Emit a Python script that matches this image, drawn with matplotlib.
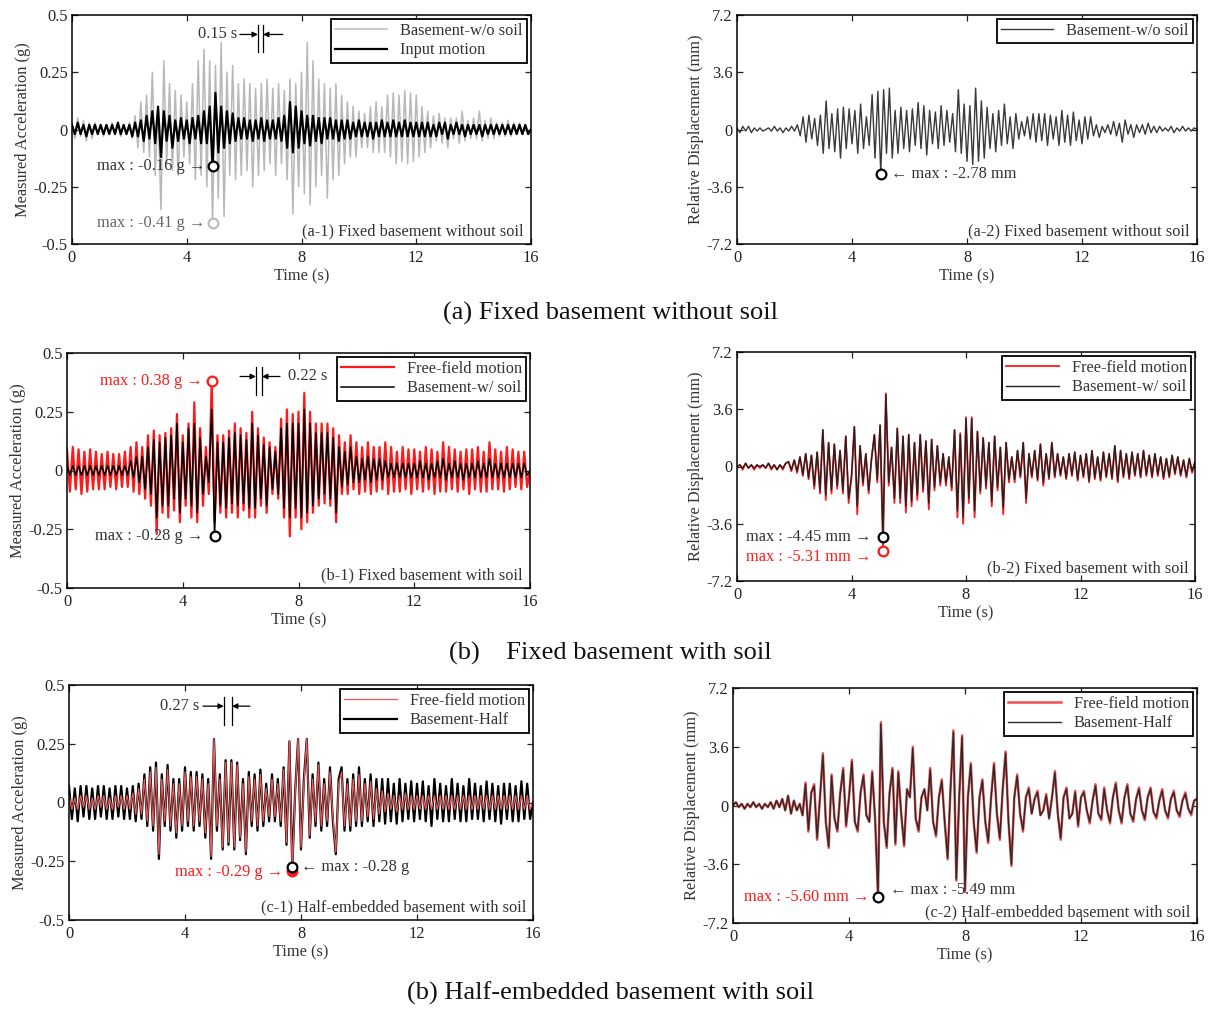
import numpy as np
import matplotlib
matplotlib.use('Agg')
import matplotlib.pyplot as plt

plt.rcParams['font.family'] = ['Liberation Serif', 'DejaVu Serif']

DT = 0.1  # sampling of the read-off peaks (s)

# ---------------- (a-1) accelerations (g) ----------------
acc_a1_basement = [
    0.03,-0.04,0.05,-0.03,0.04,-0.05,0.03,-0.04,0.03,-0.02,
    0.02,-0.03,0.02,-0.02,0.03,-0.02,0.02,-0.03,0.02,-0.02,
    0.03,-0.04,0.06,-0.08,0.12,-0.10,0.15,-0.12,0.25,-0.20,
    0.10,-0.35,0.30,-0.15,0.20,-0.18,0.17,-0.20,0.15,-0.12,
    0.12,-0.15,0.20,-0.22,0.30,-0.20,0.35,-0.25,0.30,-0.41,
    0.28,-0.30,0.38,-0.38,0.25,-0.20,0.28,-0.22,0.20,-0.20,
    0.22,-0.18,0.20,-0.25,0.18,-0.20,0.20,-0.18,0.22,-0.15,
    0.18,-0.20,0.20,-0.15,0.17,-0.22,0.22,-0.37,0.20,-0.25,
    0.25,-0.28,0.38,-0.33,0.30,-0.25,0.22,-0.20,0.20,-0.30,
    0.18,-0.22,0.20,-0.20,0.15,-0.15,0.12,-0.12,0.10,-0.12,
    0.08,-0.08,0.07,-0.08,0.10,-0.10,0.12,-0.10,0.10,-0.10,
    0.15,-0.12,0.16,-0.15,0.15,-0.14,0.17,-0.15,0.16,-0.14,
    0.15,-0.12,0.10,-0.10,0.08,-0.08,0.06,-0.05,0.07,-0.06,
    0.05,-0.08,0.05,-0.04,0.05,-0.06,0.08,-0.05,0.04,-0.04,
    0.05,-0.04,0.08,-0.05,0.04,-0.04,0.05,-0.04,0.03,-0.03,
    0.03,-0.03,0.04,-0.03,0.03,-0.02,0.03,-0.02,0.02,-0.02,
    0.00]
acc_a1_input = [
    0.02,-0.02,0.03,-0.02,0.02,-0.03,0.02,-0.02,0.02,-0.02,
    0.02,-0.02,0.02,-0.02,0.02,-0.02,0.03,-0.02,0.02,-0.02,
    0.02,-0.03,0.03,-0.03,0.04,-0.05,0.06,-0.04,0.08,-0.06,
    0.10,-0.12,0.08,-0.05,0.06,-0.08,0.04,-0.05,0.05,-0.04,
    0.04,-0.06,0.05,-0.04,0.06,-0.06,0.08,-0.06,0.10,-0.16,
    0.16,-0.10,0.10,-0.08,0.08,-0.06,0.07,-0.05,0.05,-0.04,
    0.05,-0.04,0.04,-0.05,0.04,-0.04,0.05,-0.05,0.04,-0.04,
    0.04,-0.04,0.05,-0.05,0.06,-0.08,0.12,-0.10,0.10,-0.08,
    0.08,-0.06,0.06,-0.07,0.06,-0.05,0.05,-0.06,0.05,-0.04,
    0.05,-0.04,0.04,-0.05,0.04,-0.04,0.04,-0.04,0.03,-0.03,
    0.04,-0.03,0.03,-0.03,0.03,-0.04,0.03,-0.03,0.04,-0.03,
    0.03,-0.03,0.04,-0.03,0.03,-0.03,0.04,-0.03,0.03,-0.03,
    0.03,-0.03,0.03,-0.03,0.03,-0.03,0.02,-0.03,0.03,-0.02,
    0.03,-0.04,0.02,-0.02,0.03,-0.02,0.02,-0.03,0.02,-0.02,
    0.02,-0.02,0.02,-0.03,0.02,-0.02,0.02,-0.02,0.02,-0.02,
    0.02,-0.02,0.02,-0.02,0.02,-0.02,0.02,-0.02,0.02,-0.02,
    0.00]

# ---------------- (a-2) displacement (mm) ----------------
disp_a2_basement = [
    0.1,-0.2,0.2,-0.1,0.2,-0.2,0.1,-0.1,0.1,-0.1,
    0.0,0.1,-0.1,0.2,-0.1,0.1,-0.2,0.1,-0.1,0.2,
    -0.1,0.3,-0.4,0.8,-0.8,0.9,-0.6,0.7,-1.0,0.9,
    -1.5,1.8,-1.2,1.0,-1.4,1.3,-1.8,1.4,-1.2,1.3,
    -0.9,1.2,-1.5,1.6,-1.2,0.8,-1.0,2.2,-1.8,2.4,
    -2.78,2.5,-1.5,2.6,-1.8,1.2,-1.5,1.4,-1.2,1.2,
    -1.4,1.3,-1.0,1.7,-1.2,1.5,-1.6,1.2,-0.9,1.1,
    -1.2,1.5,-1.0,1.2,-0.8,1.0,-1.4,2.5,-1.5,1.6,
    -2.0,1.5,-2.2,2.6,-2.0,1.8,-1.8,1.4,-1.2,1.0,
    -1.4,1.2,-1.0,1.6,-0.9,0.8,-1.2,1.0,-0.6,0.5,
    -0.4,0.8,-0.6,1.0,-0.8,1.0,-0.7,1.0,-1.0,0.9,
    -0.6,0.8,-1.0,1.2,-0.8,0.9,-1.0,1.1,-0.7,0.6,
    -0.9,0.8,-0.6,0.8,-0.4,0.3,-0.5,0.2,-0.2,0.3,
    -0.3,0.5,-0.4,0.4,-0.8,0.6,-0.3,0.3,-0.5,0.3,
    -0.2,0.3,-0.3,0.4,-0.2,0.2,-0.2,0.2,-0.1,0.1,
    -0.1,0.2,-0.2,0.1,-0.1,0.2,-0.1,0.1,-0.1,0.1,
    0.0]

# ---------------- (b-1) accelerations (g) ----------------
acc_b1_free = [
    0.09,-0.09,0.10,-0.08,0.09,-0.10,0.08,-0.09,0.09,-0.08,
    0.08,-0.08,0.07,-0.08,0.08,-0.07,0.07,-0.08,0.07,-0.07,
    0.08,-0.07,0.10,-0.09,0.12,-0.10,0.10,-0.12,0.15,-0.15,
    0.17,-0.27,0.15,-0.18,0.16,-0.20,0.18,-0.17,0.24,-0.22,
    0.15,-0.15,0.20,-0.20,0.29,-0.22,0.18,-0.15,0.10,-0.10,
    0.38,-0.22,0.15,-0.18,0.15,-0.20,0.17,-0.18,0.20,-0.20,
    0.18,-0.17,0.16,-0.20,0.25,-0.20,0.18,-0.15,0.14,-0.18,
    0.12,-0.10,0.10,-0.12,0.22,-0.20,0.26,-0.28,0.24,-0.20,
    0.25,-0.25,0.33,-0.22,0.25,-0.18,0.20,-0.15,0.20,-0.14,
    0.20,-0.15,0.18,-0.22,0.15,-0.10,0.12,-0.10,0.15,-0.08,
    0.12,-0.10,0.10,-0.09,0.12,-0.10,0.10,-0.09,0.10,-0.08,
    0.12,-0.10,0.10,-0.09,0.08,-0.09,0.10,-0.08,0.09,-0.10,
    0.09,-0.08,0.08,-0.09,0.10,-0.08,0.09,-0.10,0.08,-0.09,
    0.12,-0.09,0.10,-0.08,0.09,-0.09,0.08,-0.08,0.09,-0.10,
    0.09,-0.08,0.10,-0.09,0.08,-0.09,0.12,-0.08,0.09,-0.08,
    0.08,-0.09,0.10,-0.08,0.09,-0.07,0.08,-0.08,0.08,-0.07,
    0.00]
acc_b1_basement = [
    0.02,-0.02,0.02,-0.02,0.02,-0.02,0.02,-0.02,0.02,-0.02,
    0.02,-0.02,0.02,-0.02,0.02,-0.02,0.02,-0.02,0.02,-0.02,
    0.02,-0.02,0.04,-0.03,0.06,-0.05,0.06,-0.08,0.10,-0.10,
    0.13,-0.20,0.12,-0.15,0.14,-0.15,0.15,-0.12,0.20,-0.18,
    0.12,-0.12,0.18,-0.15,0.20,-0.18,0.14,-0.10,0.06,-0.05,
    0.26,-0.28,0.12,-0.15,0.12,-0.16,0.14,-0.14,0.16,-0.15,
    0.15,-0.14,0.13,-0.16,0.20,-0.16,0.15,-0.12,0.11,-0.15,
    0.10,-0.08,0.08,-0.10,0.18,-0.16,0.20,-0.20,0.20,-0.16,
    0.20,-0.20,0.26,-0.18,0.20,-0.15,0.16,-0.12,0.16,-0.10,
    0.16,-0.12,0.14,-0.18,0.10,-0.07,0.08,-0.06,0.10,-0.05,
    0.06,-0.05,0.05,-0.04,0.06,-0.05,0.05,-0.04,0.05,-0.04,
    0.04,-0.03,0.03,-0.03,0.03,-0.03,0.03,-0.03,0.03,-0.03,
    0.03,-0.03,0.04,-0.03,0.03,-0.04,0.03,-0.03,0.04,-0.03,
    0.05,-0.04,0.03,-0.03,0.04,-0.03,0.03,-0.04,0.03,-0.03,
    0.03,-0.03,0.04,-0.03,0.03,-0.03,0.05,-0.03,0.03,-0.03,
    0.03,-0.03,0.03,-0.03,0.03,-0.03,0.03,-0.03,0.03,-0.02,
    0.00]

# ---------------- (b-2) displacements (mm) ----------------
disp_b2_free = [
    0.0,0.1,-0.2,0.2,-0.1,0.1,-0.2,0.1,-0.1,0.1,
    -0.1,0.2,-0.2,0.1,-0.2,0.1,-0.2,0.2,0.3,-0.3,
    0.4,-0.4,0.6,-0.6,0.8,-0.8,0.7,-1.4,0.9,-1.7,
    2.3,-2.1,1.5,-1.7,1.4,-1.4,1.0,-1.7,1.9,-2.3,
    -0.7,2.5,-3.0,1.3,-1.2,0.8,-1.7,0.5,2.0,-1.0,
    2.6,-5.31,4.6,-1.2,1.2,-2.3,2.4,-2.3,1.9,-2.9,
    2.0,-2.5,1.5,-2.1,2.0,-1.6,1.6,-2.7,1.7,-1.5,
    1.3,-1.2,0.8,-1.2,0.6,-1.5,2.3,-3.2,2.1,-3.6,
    3.1,-2.3,3.1,-3.2,2.2,-1.7,1.8,-1.4,1.5,-2.5,
    1.9,-1.5,1.2,-3.0,1.5,-1.0,0.6,-1.0,1.0,-0.7,
    1.5,-2.3,0.8,-0.7,1.0,-0.9,1.4,-1.2,0.8,-0.8,
    1.5,-0.7,0.8,-0.6,0.6,-0.8,0.8,-0.6,0.9,-0.9,
    0.7,-0.7,0.8,-1.0,1.0,-0.8,0.6,-0.9,0.9,-0.7,
    0.8,-0.8,1.3,-1.0,1.0,-0.7,0.8,-0.8,0.9,-0.6,
    0.8,-0.7,1.0,-0.6,0.7,-0.7,0.8,-0.6,0.6,-0.8,
    0.5,-0.7,0.7,-0.5,0.6,-0.6,0.4,-0.7,0.5,-0.4,
    0.3]
disp_b2_basement = [
    0.0,0.1,-0.1,0.2,-0.1,0.1,-0.1,0.1,0.0,0.1,
    -0.1,0.2,-0.1,0.1,-0.2,0.1,-0.1,0.2,0.3,-0.2,
    0.4,-0.3,0.6,-0.5,0.8,-0.7,0.7,-1.2,0.9,-1.5,
    2.3,-1.8,1.5,-1.5,1.4,-1.2,1.0,-1.5,1.9,-2.0,
    -0.6,2.5,-2.5,1.3,-1.0,0.8,-1.5,0.5,2.0,-0.8,
    2.6,-4.45,4.5,-1.0,1.2,-2.0,2.4,-2.0,1.9,-2.5,
    2.0,-2.2,1.5,-1.8,2.0,-1.4,1.6,-2.3,1.7,-1.3,
    1.3,-1.0,0.8,-1.0,0.6,-1.3,2.3,-2.8,2.0,-3.2,
    3.0,-2.0,3.0,-2.8,2.2,-1.5,1.8,-1.2,1.5,-2.2,
    1.9,-1.3,1.2,-2.6,1.5,-0.8,0.6,-0.8,1.0,-0.6,
    1.5,-2.0,0.8,-0.6,1.0,-0.8,1.4,-1.0,0.8,-0.7,
    1.5,-0.6,0.8,-0.5,0.6,-0.7,0.8,-0.5,0.9,-0.8,
    0.7,-0.6,0.8,-0.9,1.0,-0.7,0.6,-0.8,0.9,-0.6,
    0.8,-0.7,1.3,-0.9,1.0,-0.6,0.8,-0.7,0.9,-0.5,
    0.8,-0.6,1.0,-0.5,0.7,-0.6,0.8,-0.5,0.6,-0.7,
    0.5,-0.6,0.7,-0.4,0.6,-0.5,0.4,-0.6,0.5,-0.3,
    0.3]

# ---------------- (c-1) accelerations (g) ----------------
acc_c1_free = [
    0.03,-0.03,0.02,-0.03,0.03,-0.02,0.03,-0.03,0.02,-0.03,
    0.03,-0.02,0.03,-0.03,0.02,-0.03,0.03,-0.02,0.03,-0.03,
    0.03,-0.03,0.04,-0.05,0.06,-0.05,0.10,-0.08,0.13,-0.10,
    0.15,-0.22,0.10,-0.08,0.14,-0.10,0.08,-0.13,0.08,-0.10,
    0.13,-0.08,0.11,-0.10,0.11,-0.08,0.10,-0.13,0.08,-0.23,
    0.27,-0.10,0.10,-0.19,0.17,-0.17,0.17,-0.19,0.16,-0.15,
    0.08,-0.21,0.11,-0.08,0.10,-0.10,0.12,-0.08,0.06,-0.06,
    0.10,-0.06,0.08,-0.08,0.14,-0.17,0.26,-0.29,0.04,0.27,
    -0.19,0.08,0.27,-0.14,0.10,-0.08,0.16,-0.10,0.08,-0.08,
    0.13,-0.06,-0.21,0.08,0.13,-0.10,0.08,-0.10,0.10,-0.08,
    0.12,-0.08,0.08,-0.06,0.09,-0.07,0.06,-0.05,0.05,-0.04,
    0.04,-0.03,0.03,-0.04,0.03,-0.03,0.04,-0.03,0.03,-0.03,
    0.03,-0.03,0.03,-0.03,0.03,-0.03,0.03,-0.03,0.03,-0.03,
    0.03,-0.03,0.03,-0.03,0.03,-0.03,0.03,-0.03,0.03,-0.03,
    0.03,-0.03,0.03,-0.03,0.03,-0.03,0.03,-0.03,0.03,-0.03,
    0.03,-0.03,0.03,-0.03,0.03,-0.03,0.03,-0.03,0.03,-0.03,
    0.00]
acc_c1_basement = [
    0.07,-0.07,0.06,-0.08,0.07,-0.06,0.07,-0.07,0.06,-0.07,
    0.07,-0.06,0.07,-0.07,0.06,-0.07,0.07,-0.06,0.07,-0.07,
    0.06,-0.07,0.07,-0.08,0.08,-0.07,0.12,-0.10,0.15,-0.12,
    0.17,-0.24,0.12,-0.10,0.16,-0.12,0.10,-0.15,0.10,-0.12,
    0.15,-0.10,0.13,-0.12,0.13,-0.10,0.12,-0.15,0.10,-0.24,
    0.27,-0.12,0.12,-0.20,0.18,-0.18,0.18,-0.20,0.17,-0.16,
    0.10,-0.22,0.13,-0.10,0.12,-0.12,0.14,-0.10,0.08,-0.08,
    0.12,-0.08,0.10,-0.10,0.15,-0.18,0.26,-0.28,0.05,0.27,
    -0.20,0.10,0.27,-0.15,0.12,-0.10,0.17,-0.12,0.10,-0.10,
    0.15,-0.08,-0.22,0.10,0.15,-0.12,0.10,-0.12,0.12,-0.10,
    0.15,-0.10,0.10,-0.08,0.12,-0.10,0.10,-0.08,0.10,-0.09,
    0.10,-0.08,0.08,-0.09,0.10,-0.08,0.08,-0.07,0.09,-0.08,
    0.08,-0.07,0.09,-0.08,0.07,-0.10,0.10,-0.07,0.08,-0.08,
    0.07,-0.08,0.10,-0.07,0.08,-0.08,0.07,-0.08,0.10,-0.07,
    0.08,-0.07,0.07,-0.08,0.09,-0.07,0.08,-0.08,0.07,-0.09,
    0.08,-0.07,0.08,-0.08,0.07,-0.08,0.09,-0.07,0.08,-0.07,
    0.00]

# ---------------- (c-2) displacements (mm) ----------------
disp_c2_free = [
    0.0,0.2,-0.1,0.1,-0.2,0.1,-0.1,0.2,-0.1,0.1,
    -0.2,0.1,-0.1,0.2,-0.2,0.3,-0.1,0.4,-0.3,0.6,
    -0.5,0.3,-0.3,0.1,-0.6,1.4,-1.6,0.8,1.3,-2.1,
    0.5,3.2,-1.0,-2.6,1.9,-0.8,-1.6,0.8,2.3,-1.3,
    0.5,2.8,-1.0,-1.6,0.8,1.9,-0.6,-1.0,2.1,-0.8,
    -5.60,5.1,-1.0,-2.6,0.8,2.3,-2.4,2.1,-0.5,-2.5,
    1.0,0.5,3.6,-0.8,-1.6,0.5,1.0,-0.3,2.3,-1.0,
    -1.9,0.5,1.6,-1.0,-3.3,1.0,4.6,-4.6,0.5,4.3,
    -5.3,0.5,2.6,-1.0,-2.9,0.5,1.6,-1.0,-2.3,0.5,
    2.6,-0.5,-2.1,1.0,3.3,-1.0,-3.7,0.5,1.9,-0.5,
    -1.6,0.5,1.1,-0.5,0.4,0.9,-0.6,-0.3,0.7,-0.8,
    0.5,2.1,-0.5,-2.1,0.5,1.1,-0.8,-0.5,0.9,-1.3,
    0.5,0.9,-0.3,-1.1,0.3,1.3,-0.5,-0.9,1.1,-0.3,
    -1.1,0.5,1.4,-0.3,-1.1,0.5,1.3,-0.5,-1.0,0.4,
    1.1,-0.3,-0.9,0.5,1.1,-0.4,-0.8,0.3,1.0,-0.3,
    -0.8,0.4,0.9,-0.3,-0.7,0.3,0.8,-0.2,-0.6,0.3,
    0.4]
disp_c2_basement = [
    0.0,0.2,-0.1,0.1,-0.2,0.1,-0.1,0.2,-0.1,0.1,
    -0.2,0.1,-0.1,0.2,-0.2,0.3,-0.1,0.4,-0.3,0.6,
    -0.5,0.3,-0.3,0.1,-0.6,1.3,-1.5,0.8,1.2,-2.0,
    0.5,3.1,-1.0,-2.5,1.8,-0.8,-1.5,0.8,2.2,-1.2,
    0.5,2.7,-1.0,-1.5,0.8,1.8,-0.6,-1.0,2.0,-0.8,
    -5.49,5.0,-1.0,-2.5,0.8,2.2,-2.3,2.0,-0.5,-2.4,
    1.0,0.5,3.5,-0.8,-1.5,0.5,1.0,-0.3,2.2,-1.0,
    -1.8,0.5,1.5,-1.0,-3.2,1.0,4.5,-4.5,0.5,4.2,
    -5.2,0.5,2.5,-1.0,-2.8,0.5,1.5,-1.0,-2.2,0.5,
    2.5,-0.5,-2.0,1.0,3.2,-1.0,-3.6,0.5,1.8,-0.5,
    -1.5,0.5,1.0,-0.5,0.4,0.8,-0.6,-0.3,0.6,-0.8,
    0.5,2.0,-0.5,-2.0,0.5,1.0,-0.8,-0.5,0.8,-1.2,
    0.5,0.8,-0.3,-1.0,0.3,1.2,-0.5,-0.8,1.0,-0.3,
    -1.0,0.5,1.3,-0.3,-1.0,0.5,1.2,-0.5,-0.9,0.4,
    1.0,-0.3,-0.8,0.5,1.0,-0.4,-0.7,0.3,0.9,-0.3,
    -0.7,0.4,0.8,-0.3,-0.6,0.3,0.7,-0.2,-0.5,0.3,
    0.4]

acc_ticks = [-0.5, -0.25, 0, 0.25, 0.5]
acc_ticklabels = ['-0.5', '-0.25', '0', '0.25', '0.5']
disp_ticks = [-7.2, -3.6, 0, 3.6, 7.2]
disp_ticklabels = ['-7.2', '-3.6', '0', '3.6', '7.2']
time_ticks = [0, 4, 8, 12, 16]

RED = '#ff1a1a'
DARK = '#333333'
FS = 11.8

W, H = 1211, 1010
fig = plt.figure(figsize=(W / 100, H / 100), dpi=100)


def add_ax(x0, x1, ytop, ybot):
    return fig.add_axes([x0 / W, 1 - ybot / H, (x1 - x0) / W, (ybot - ytop) / H])


def tt(arr):
    return np.arange(len(arr)) * DT


def style(ax, kind):
    ax.set_xlim(0, 16)
    ax.set_xticks(time_ticks)
    ax.set_xticklabels([str(v) for v in time_ticks])
    if kind == 'acc':
        ax.set_ylim(-0.5, 0.5)
        ax.set_yticks(acc_ticks)
        ax.set_yticklabels(acc_ticklabels)
        ax.set_ylabel('Measured Acceleration (g)', fontsize=FS, color=DARK, labelpad=2)
    else:
        ax.set_ylim(-7.2, 7.2)
        ax.set_yticks(disp_ticks)
        ax.set_yticklabels(disp_ticklabels)
        ax.set_ylabel('Relative Displacement (mm)', fontsize=FS, color=DARK, labelpad=2)
    ax.set_xlabel('Time (s)', fontsize=FS, color=DARK, labelpad=2)
    ax.tick_params(direction='in', top=True, right=True, length=4, width=0.9,
                   labelsize=FS, colors='#222222')
    ax.tick_params(axis='x', pad=4)
    ax.tick_params(axis='y', pad=3)
    for s in ax.spines.values():
        s.set_linewidth(1.1)


def legend(ax, handles, labels):
    lg = ax.legend(handles, labels, loc='upper right', fontsize=FS, frameon=True,
                   fancybox=False, edgecolor='black', framealpha=1,
                   handlelength=3.2, borderaxespad=0.25, borderpad=0.25,
                   labelspacing=0.2, handletextpad=0.8)
    lg.get_frame().set_linewidth(1.3)
    for txt in lg.get_texts():
        txt.set_color(DARK)


def circle(ax, x, y, color, face='white'):
    ax.plot([x], [y], 'o', ms=7, mfc=face, mec=color, mew=1.6, zorder=6)


def gap_marker(ax, xa, xb, y0, y1, yarr, xl, xr):
    ax.plot([xa, xa], [y0, y1], color='k', lw=0.9)
    ax.plot([xb, xb], [y0, y1], color='k', lw=0.9)
    ap = dict(arrowstyle='-|>', color='k', lw=0.9, mutation_scale=8,
              shrinkA=0, shrinkB=0)
    ax.annotate('', xy=(xa, yarr), xytext=(xl, yarr), arrowprops=ap)
    ax.annotate('', xy=(xb, yarr), xytext=(xr, yarr), arrowprops=ap)


def panel_label(ax, s, y=0.02):
    ax.text(0.985, y, s, transform=ax.transAxes, ha='right', va='bottom',
            fontsize=FS, color=DARK)


# ===================== (a-1) =====================
ax = add_ax(72, 531, 15, 244)
g1, = ax.plot(tt(acc_a1_basement), acc_a1_basement, color='#b8b8b8', lw=1.1)
k1, = ax.plot(tt(acc_a1_input), acc_a1_input, color='black', lw=1.6)
style(ax, 'acc')
legend(ax, [g1, k1], ['Basement-w/o soil', 'Input motion'])
i = int(np.argmin(acc_a1_input))
circle(ax, i * DT, acc_a1_input[i], 'black')
ax.text(i * DT - 0.25, acc_a1_input[i], 'max : -0.16 g \u2192', ha='right', va='center',
        fontsize=FS, color=DARK)
i = int(np.argmin(acc_a1_basement))
circle(ax, i * DT, acc_a1_basement[i], '#bdbdbd')
ax.text(i * DT - 0.25, acc_a1_basement[i], 'max : -0.41 g \u2192', ha='right', va='center',
        fontsize=FS, color='#666666')
gap_marker(ax, 6.48, 6.66, 0.34, 0.455, 0.415, 5.85, 7.35)
ax.text(5.75, 0.415, '0.15 s', ha='right', va='center', fontsize=FS, color=DARK)
panel_label(ax, '(a-1) Fixed basement without soil')

# ===================== (a-2) =====================
ax = add_ax(737, 1197, 15, 244)
d1, = ax.plot(tt(disp_a2_basement), disp_a2_basement, color='#3a3a3a', lw=1.0)
style(ax, 'disp')
legend(ax, [d1], ['Basement-w/o soil'])
i = int(np.argmin(disp_a2_basement))
circle(ax, i * DT, disp_a2_basement[i], 'black')
ax.text(i * DT + 0.35, disp_a2_basement[i], '\u2190 max : -2.78 mm', ha='left', va='center',
        fontsize=FS, color=DARK)
panel_label(ax, '(a-2) Fixed basement without soil')

# ===================== (b-1) =====================
ax = add_ax(67, 530, 353, 588)
r1, = ax.plot(tt(acc_b1_free), acc_b1_free, color=RED, lw=1.6)
b1, = ax.plot(tt(acc_b1_basement), acc_b1_basement, color='black', lw=1.1)
style(ax, 'acc')
legend(ax, [r1, b1], ['Free-field motion', 'Basement-w/ soil'])
i = int(np.argmax(acc_b1_free))
circle(ax, i * DT, acc_b1_free[i], RED)
ax.text(i * DT - 0.3, acc_b1_free[i], 'max : 0.38 g \u2192', ha='right', va='center',
        fontsize=FS, color=RED)
i = int(np.argmin(acc_b1_basement))
circle(ax, i * DT, acc_b1_basement[i], 'black')
ax.text(i * DT - 0.4, acc_b1_basement[i], 'max : -0.28 g \u2192', ha='right', va='center',
        fontsize=FS, color=DARK)
gap_marker(ax, 6.53, 6.74, 0.32, 0.44, 0.40, 5.98, 7.36)
ax.text(7.64, 0.40, '0.22 s', ha='left', va='center', fontsize=FS, color=DARK)
panel_label(ax, '(b-1) Fixed basement with soil')

# ===================== (b-2) =====================
ax = add_ax(737, 1195, 352, 581)
r2, = ax.plot(tt(disp_b2_free), disp_b2_free, color=RED, lw=1.3)
b2, = ax.plot(tt(disp_b2_basement), disp_b2_basement, color='#222222', lw=1.0)
style(ax, 'disp')
legend(ax, [r2, b2], ['Free-field motion', 'Basement-w/ soil'])
i = int(np.argmin(disp_b2_basement))
circle(ax, i * DT, disp_b2_basement[i], 'black')
ax.text(i * DT - 0.4, disp_b2_basement[i], 'max : -4.45 mm \u2192', ha='right', va='center',
        fontsize=FS, color=DARK)
i = int(np.argmin(disp_b2_free))
circle(ax, i * DT, disp_b2_free[i], RED)
ax.text(i * DT - 0.4, disp_b2_free[i] - 0.35, 'max : -5.31 mm \u2192', ha='right', va='center',
        fontsize=FS, color=RED)
panel_label(ax, '(b-2) Fixed basement with soil')

# ===================== (c-1) =====================
ax = add_ax(69, 533, 685, 920)
b3, = ax.plot(tt(acc_c1_basement), acc_c1_basement, color='black', lw=1.6)
r3, = ax.plot(tt(acc_c1_free), acc_c1_free, color='#e85a5a', lw=0.9)
style(ax, 'acc')
legend(ax, [r3, b3], ['Free-field motion', 'Basement-Half'])
i = int(np.argmin(acc_c1_free))
circle(ax, i * DT, acc_c1_free[i], RED, face=RED)
ax.text(i * DT - 0.3, acc_c1_free[i] - 0.005, 'max : -0.29 g \u2192', ha='right', va='center',
        fontsize=FS, color=RED)
i = int(np.argmin(acc_c1_basement))
circle(ax, i * DT, acc_c1_basement[i] + 0.005, 'black')
ax.text(i * DT + 0.3, acc_c1_basement[i] + 0.005, '\u2190 max : -0.28 g', ha='left', va='center',
        fontsize=FS, color=DARK)
gap_marker(ax, 5.34, 5.62, 0.33, 0.45, 0.41, 4.62, 6.24)
ax.text(4.5, 0.41, '0.27 s', ha='right', va='center', fontsize=FS, color=DARK)
panel_label(ax, '(c-1) Half-embedded basement with soil')

# ===================== (c-2) =====================
ax = add_ax(733, 1197, 688, 923)
r4, = ax.plot(tt(disp_c2_free), disp_c2_free, color='#f05050', lw=1.8)
b4, = ax.plot(tt(disp_c2_basement), disp_c2_basement, color='#2a2a2a', lw=1.0)
style(ax, 'disp')
legend(ax, [r4, b4], ['Free-field motion', 'Basement-Half'])
i = int(np.argmin(disp_c2_free))
circle(ax, i * DT, disp_c2_free[i], 'black')
ax.text(i * DT - 0.3, disp_c2_free[i], 'max : -5.60 mm \u2192', ha='right', va='center',
        fontsize=FS, color=RED)
i = int(np.argmin(disp_c2_basement))
ax.text(i * DT + 0.4, disp_c2_basement[i] + 0.3, '\u2190 max : -5.49 mm', ha='left', va='center',
        fontsize=FS, color=DARK)
panel_label(ax, '(c-2) Half-embedded basement with soil', y=0.012)

# ===================== captions =====================
fig.text(610 / W, 1 - 313 / H, '(a) Fixed basement without soil', ha='center', va='center',
         fontsize=19, color='#111111')
fig.text(610 / W, 1 - 653 / H, '(b)    Fixed basement with soil', ha='center', va='center',
         fontsize=19, color='#111111')
fig.text(610 / W, 1 - 993 / H, '(b) Half-embedded basement with soil', ha='center', va='center',
         fontsize=19, color='#111111')

fig.savefig('out.png', dpi=100)
